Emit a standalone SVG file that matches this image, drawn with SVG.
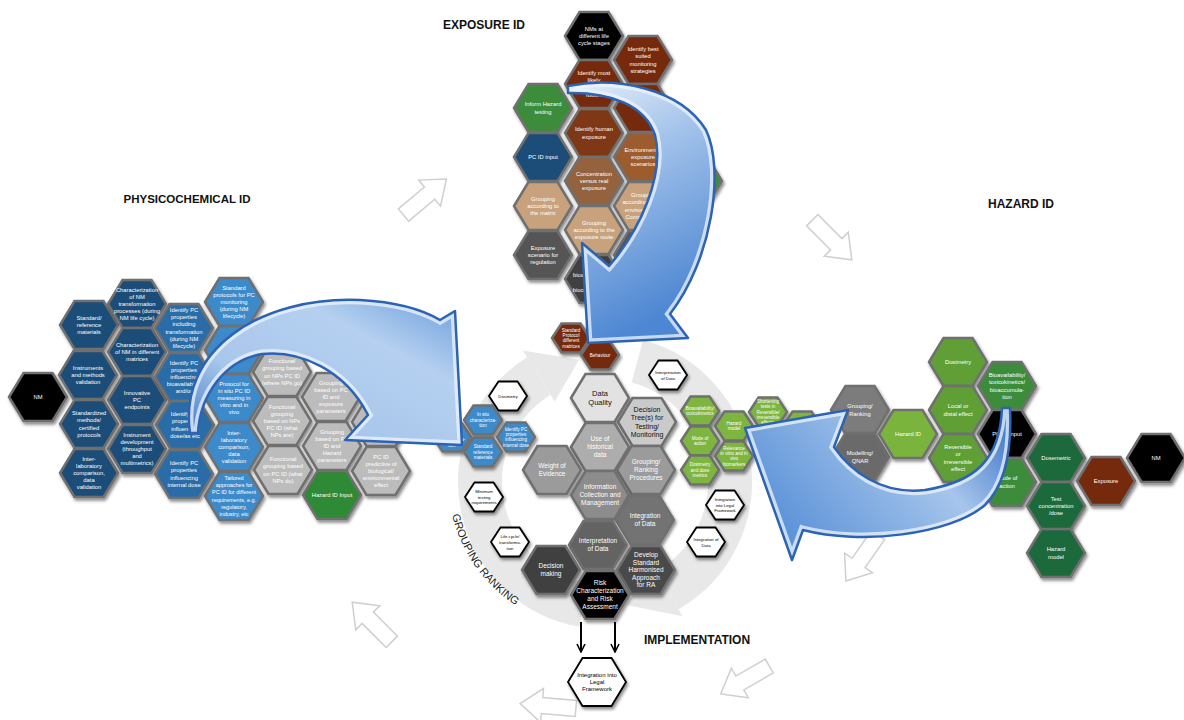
<svg xmlns="http://www.w3.org/2000/svg" width="1184" height="720" viewBox="0 0 1184 720">
<defs>
<style>
.t{font-family:'Liberation Sans',Arial,sans-serif;font-size:5.8px;fill:#fff;text-anchor:middle}
.ts{font-family:'Liberation Sans',Arial,sans-serif;font-size:4.6px;fill:#fff;text-anchor:middle}
.tw{font-family:'Liberation Sans',Arial,sans-serif;font-size:4.3px;fill:#000;text-anchor:middle}
.tc{font-family:'Liberation Sans',Arial,sans-serif;font-size:6.5px;fill:#fff;text-anchor:middle}
.td{font-family:'Liberation Sans',Arial,sans-serif;font-size:7px;fill:#111;text-anchor:middle}
.tf{font-family:'Liberation Sans',Arial,sans-serif;font-size:6px;fill:#000;text-anchor:middle}
.title{font-family:'Liberation Sans',Arial,sans-serif;font-size:12px;font-weight:bold;fill:#111;text-anchor:middle}
.gr{font-family:'Liberation Sans',Arial,sans-serif;font-size:11px;fill:#222}
.h{stroke:#6f6f6f;stroke-width:2.5;filter:url(#sh)}
.w{fill:#fff;stroke:#000;stroke-width:1.8;filter:url(#sh)}
.nv{fill:#1b4d79}.mb{fill:#2b6ca7}.lb{fill:#3d8acb}.lg{fill:#bcbcbc}
.gk{fill:#2e8a36}.bk{fill:#050505}.br{fill:#74290e}.br2{fill:#7f3814}
.env{fill:#9c5b2f}.con{fill:#94623c}.tan{fill:#c7a27b}
.dg1{fill:#555}.dg2{fill:#3f3f3f}
.lgr{fill:#7db541}.lgr2{fill:#7ab43d}.mgr{fill:#5e9f36}.dgr{fill:#3c8c3b}.vdg{fill:#1f6b3b}
.gr1{fill:#7b7b7b}.gr2{fill:#6b6b6b}
.c1{fill:#e2e2e2}.c2{fill:#cacaca}.c3{fill:#adadad}.c4{fill:#9b9b9b}.c5{fill:#8c8c8c}
.c6{fill:#737373}.c7{fill:#636363}.c8{fill:#3f3f3f}.c9{fill:#4a4a4a}
.oa{fill:#fff;stroke:#cfcfcf;stroke-width:1.5}
.ring{fill:none;stroke:#e8e8e8;stroke-width:44}
.ah{fill:#e8e8e8}
.bo{fill:none;stroke:#2d63b3;stroke-width:2.5;stroke-linejoin:round}
.hl{fill:none;stroke:#eef4fc;stroke-opacity:0.75;stroke-width:9}
</style>
<filter id="sh" x="-30%" y="-30%" width="160%" height="170%">
<feDropShadow dx="1.5" dy="2.5" stdDeviation="1.8" flood-color="#000" flood-opacity="0.45"/>
</filter>
<polygon id="hL" points="-29,0 -14.5,-24 14.5,-24 29,0 14.5,24 -14.5,24"/>
<polygon id="hS" points="-19,0 -9.5,-14.5 9.5,-14.5 19,0 9.5,14.5 -9.5,14.5"/>
<polygon id="oarrow" points="-28,-8 6,-8 6,-17 28,0 6,17 6,8 -28,8"/>
<marker id="chev" viewBox="0 0 10 10" refX="9" refY="5" markerWidth="5" markerHeight="5" orient="auto" markerUnits="strokeWidth">
<path d="M1,1 L9,5 L1,9" fill="none" stroke="#000" stroke-width="1.6"/>
</marker>
<path id="a1" d="M190,433 C178,350 260,296 360,300 C395,302 420,308 440,320 L455,311 L462,445 L345,440 L368,415 C345,370 300,350 262,354 C225,360 200,395 198,433 Z"/>
<path id="a2" d="M568,86 C615,76 680,88 706,130 C725,170 712,260 670,314 L688,338 L588,343 L582,243 L609,266 C640,230 665,175 655,135 C645,105 610,92 568,93 Z"/>
<path id="a3" d="M1002,408 C1000,460 975,482 925,490 C880,495 850,470 834,447 L848,410 L745,428 L792,560 L803,530 C860,545 950,535 985,505 C1005,485 1012,450 1010,408 Z"/>
<clipPath id="c1"><use href="#a1"/></clipPath>
<clipPath id="c2"><use href="#a2"/></clipPath>
<clipPath id="c3"><use href="#a3"/></clipPath>
<linearGradient id="gA1" x1="0" y1="1" x2="1" y2="0">
<stop offset="0" stop-color="#3a74c4"/><stop offset="0.35" stop-color="#a9c7ec"/><stop offset="0.7" stop-color="#b5d0f0"/><stop offset="1" stop-color="#6a9ddb"/>
</linearGradient>
<linearGradient id="gA2" x1="0" y1="0" x2="0.3" y2="1">
<stop offset="0" stop-color="#e6eff9"/><stop offset="0.4" stop-color="#9fc0ea"/><stop offset="1" stop-color="#4d86d2"/>
</linearGradient>
<linearGradient id="gA3" x1="1" y1="0" x2="0" y2="0.5">
<stop offset="0" stop-color="#2f6cc0"/><stop offset="0.4" stop-color="#a6c5ec"/><stop offset="1" stop-color="#5d93d8"/>
</linearGradient>
<path id="grpPath" d="M452,515 A152,152 0 0 0 515,605"/>
</defs>

<rect width="1184" height="720" fill="#fff"/>

<g id="connectors-back">
<path class="ring" d="M583.3,605.1 A125,125 0 0 1 538.8,376"/>
<polygon class="ah" points="554.7,401.4 522.9,350.6 579,359.7"/>
<path class="ring" d="M637.4,361.3 A125,125 0 0 1 667.5,590.3"/>
<polygon class="ah" points="652.5,564.3 682.5,616.2 626.7,605.1"/>
<use href="#oarrow" class="oa" transform="translate(425,197) rotate(-40)"/>
<use href="#oarrow" class="oa" transform="translate(832,240) rotate(45)"/>
<use href="#oarrow" class="oa" transform="translate(862,558) rotate(125)"/>
<use href="#oarrow" class="oa" transform="translate(745,680) rotate(150)"/>
<use href="#oarrow" class="oa" transform="translate(548,706) rotate(185)"/>
<use href="#oarrow" class="oa" transform="translate(372,622) rotate(225)"/>
</g>

<g id="physicochemical">
<g id="pc-nm" transform="translate(38,397)"><use href="#hL" class="h bk"/><text class="t"><tspan x="0" y="2">NM</tspan></text></g>
<g id="pc-std-ref" transform="translate(89,325)"><use href="#hL" class="h nv"/><text class="t"><tspan x="0" y="-5.2">Standard/</tspan><tspan x="0" y="2">reference</tspan><tspan x="0" y="9.2">materials</tspan></text></g>
<g id="pc-instr-val" transform="translate(88,375)"><use href="#hL" class="h nv"/><text class="t"><tspan x="0" y="-5.2">Instruments</tspan><tspan x="0" y="2">and methods</tspan><tspan x="0" y="9.2">validation</tspan></text></g>
<g id="pc-std-meth" transform="translate(89,424)"><use href="#hL" class="h nv"/><text class="t"><tspan x="0" y="-8.8">Standardized</tspan><tspan x="0" y="-1.6">methods/</tspan><tspan x="0" y="5.6">certified</tspan><tspan x="0" y="12.8">protocols</tspan></text></g>
<g id="pc-interlab1" transform="translate(89,473)"><use href="#hL" class="h nv"/><text class="t"><tspan x="0" y="-12.4">Inter-</tspan><tspan x="0" y="-5.2">laboratory</tspan><tspan x="0" y="2">comparison,</tspan><tspan x="0" y="9.2">data</tspan><tspan x="0" y="16.4">validation</tspan></text></g>
<g id="pc-char-trans" transform="translate(137,304)"><use href="#hL" class="h nv"/><text class="t"><tspan x="0" y="-12.4">Characterization</tspan><tspan x="0" y="-5.2">of NM</tspan><tspan x="0" y="2">transformation</tspan><tspan x="0" y="9.2">processes (during</tspan><tspan x="0" y="16.4">NM life cycle)</tspan></text></g>
<g id="pc-char-matr" transform="translate(137,352)"><use href="#hL" class="h nv"/><text class="t"><tspan x="0" y="-5.2">Characterization</tspan><tspan x="0" y="2">of NM in different</tspan><tspan x="0" y="9.2">matrices</tspan></text></g>
<g id="pc-innov" transform="translate(137,400)"><use href="#hL" class="h nv"/><text class="t"><tspan x="0" y="-5.2">Innovative</tspan><tspan x="0" y="2">PC</tspan><tspan x="0" y="9.2">endpoints</tspan></text></g>
<g id="pc-instr-dev" transform="translate(137,449)"><use href="#hL" class="h nv"/><text class="t"><tspan x="0" y="-12.4">Instrument</tspan><tspan x="0" y="-5.2">development</tspan><tspan x="0" y="2">(throughput</tspan><tspan x="0" y="9.2">and</tspan><tspan x="0" y="16.4">multimetrics)</tspan></text></g>
<g id="pc-id-trans" transform="translate(184,328)"><use href="#hL" class="h mb"/><text class="t"><tspan x="0" y="-16">Identify PC</tspan><tspan x="0" y="-8.8">properties</tspan><tspan x="0" y="-1.6">including</tspan><tspan x="0" y="5.6">transformation</tspan><tspan x="0" y="12.8">(during NM</tspan><tspan x="0" y="20">lifecycle)</tspan></text></g>
<g id="pc-id-bio" transform="translate(184,377)"><use href="#hL" class="h mb"/><text class="t"><tspan x="0" y="-12.4">Identify PC</tspan><tspan x="0" y="-5.2">properties</tspan><tspan x="0" y="2">influencing</tspan><tspan x="0" y="9.2">bioavailability</tspan><tspan x="0" y="16.4">and/or</tspan></text></g>
<g id="pc-id-dose" transform="translate(185,425)"><use href="#hL" class="h mb"/><text class="t"><tspan x="0" y="-8.8">Identify PC</tspan><tspan x="0" y="-1.6">properties</tspan><tspan x="0" y="5.6">influencing</tspan><tspan x="0" y="12.8">dose/as etc</tspan></text></g>
<g id="pc-id-int" transform="translate(184,474)"><use href="#hL" class="h mb"/><text class="t"><tspan x="0" y="-8.8">Identify PC</tspan><tspan x="0" y="-1.6">properties</tspan><tspan x="0" y="5.6">influencing</tspan><tspan x="0" y="12.8">internal dose</tspan></text></g>
<g id="pc-std-prot" transform="translate(234,302)"><use href="#hL" class="h lb"/><text class="t"><tspan x="0" y="-12.4">Standard</tspan><tspan x="0" y="-5.2">protocols for PC</tspan><tspan x="0" y="2">monitoring</tspan><tspan x="0" y="9.2">(during NM</tspan><tspan x="0" y="16.4">lifecycle)</tspan></text></g>
<g id="pc-hidden" transform="translate(234,350)"><use href="#hL" class="h lb"/></g>
<g id="pc-insitu" transform="translate(234,398)"><use href="#hL" class="h lb"/><text class="t"><tspan x="0" y="-12.4">Protocol for</tspan><tspan x="0" y="-5.2">in situ PC ID</tspan><tspan x="0" y="2">measuring in</tspan><tspan x="0" y="9.2">vitro and in</tspan><tspan x="0" y="16.4">vivo</tspan></text></g>
<g id="pc-interlab2" transform="translate(234,447)"><use href="#hL" class="h lb"/><text class="t"><tspan x="0" y="-12.4">Inter-</tspan><tspan x="0" y="-5.2">laboratory</tspan><tspan x="0" y="2">comparison,</tspan><tspan x="0" y="9.2">data</tspan><tspan x="0" y="16.4">validation</tspan></text></g>
<g id="pc-tailored" transform="translate(234,496)"><use href="#hL" class="h lb"/><text class="t" style="font-size:5.5px"><tspan x="0" y="-16">Tailored</tspan><tspan x="0" y="-8.8">approaches for</tspan><tspan x="0" y="-1.6">PC ID for different</tspan><tspan x="0" y="5.6">requirements, e.g.</tspan><tspan x="0" y="12.8">regulatory,</tspan><tspan x="0" y="20">industry, etc</tspan></text></g>
<g id="gp-where" transform="translate(282,372)"><use href="#hL" class="h lg"/><text class="t"><tspan x="0" y="-8.8">Functional</tspan><tspan x="0" y="-1.6">grouping based</tspan><tspan x="0" y="5.6">on NPs PC ID</tspan><tspan x="0" y="12.8">(where NPs go)</tspan></text></g>
<g id="gp-exposure" transform="translate(331,397)"><use href="#hL" class="h lg"/><text class="t"><tspan x="0" y="-12.4">Grouping</tspan><tspan x="0" y="-5.2">based on PC</tspan><tspan x="0" y="2">ID and</tspan><tspan x="0" y="9.2">exposure</tspan><tspan x="0" y="16.4">parameters</tspan></text></g>
<g id="gp-what" transform="translate(282,421)"><use href="#hL" class="h lg"/><text class="t"><tspan x="0" y="-12.4">Functional</tspan><tspan x="0" y="-5.2">grouping</tspan><tspan x="0" y="2">based on NPs</tspan><tspan x="0" y="9.2">PC ID (what</tspan><tspan x="0" y="16.4">NPs are)</tspan></text></g>
<g id="gp-hazard" transform="translate(332,446)"><use href="#hL" class="h lg"/><text class="t"><tspan x="0" y="-12.4">Grouping</tspan><tspan x="0" y="-5.2">based on PC</tspan><tspan x="0" y="2">ID and</tspan><tspan x="0" y="9.2">Hazard</tspan><tspan x="0" y="16.4">parameters</tspan></text></g>
<g id="gp-do" transform="translate(283,470)"><use href="#hL" class="h lg"/><text class="t"><tspan x="0" y="-8.8">Functional</tspan><tspan x="0" y="-1.6">grouping based</tspan><tspan x="0" y="5.6">on PC ID (what</tspan><tspan x="0" y="12.8">NPs do)</tspan></text></g>
<g id="gp-hidden" transform="translate(381,422)"><use href="#hL" class="h lg"/></g>
<g id="gp-hazard-input" transform="translate(332,495)"><use href="#hL" class="h gk"/><text class="t"><tspan x="0" y="2">Hazard ID Input</tspan></text></g>
<g id="gp-predictive" transform="translate(381,471)"><use href="#hL" class="h lg"/><text class="t"><tspan x="0" y="-12.4">PC ID</tspan><tspan x="0" y="-5.2">predictive of</tspan><tspan x="0" y="2">biological/</tspan><tspan x="0" y="9.2">environmental</tspan><tspan x="0" y="16.4">effect</tspan></text></g>
</g>

<g id="exposure">
<g id="ex-nms" transform="translate(594,36)"><use href="#hL" class="h bk"/><text class="t"><tspan x="0" y="-5.2">NMs at</tspan><tspan x="0" y="2">different life</tspan><tspan x="0" y="9.2">cycle stages</tspan></text></g>
<g id="ex-monitor" transform="translate(643,60)"><use href="#hL" class="h br"/><text class="t"><tspan x="0" y="-8.8">Identify best</tspan><tspan x="0" y="-1.6">suited</tspan><tspan x="0" y="5.6">monitoring</tspan><tspan x="0" y="12.8">strategies</tspan></text></g>
<g id="ex-routes" transform="translate(594,84)"><use href="#hL" class="h br"/><text class="t"><tspan x="0" y="-8.8">Identify most</tspan><tspan x="0" y="-1.6">likely</tspan><tspan x="0" y="5.6">exposure</tspan><tspan x="0" y="12.8">routes</tspan></text></g>
<g id="ex-hidden1" transform="translate(643,108)"><use href="#hL" class="h br"/></g>
<g id="ex-inform" transform="translate(543,108)"><use href="#hL" class="h dgr"/><text class="t"><tspan x="0" y="-1.6">Inform Hazard</tspan><tspan x="0" y="5.6">testing</tspan></text></g>
<g id="ex-human" transform="translate(594,133)"><use href="#hL" class="h br2"/><text class="t"><tspan x="0" y="-1.6">Identify human</tspan><tspan x="0" y="5.6">exposure</tspan></text></g>
<g id="ex-pcid" transform="translate(543,157)"><use href="#hL" class="h nv"/><text class="t"><tspan x="0" y="2">PC ID input</tspan></text></g>
<g id="ex-green" transform="translate(693,181)"><use href="#hL" class="h dgr"/></g>
<g id="ex-env" transform="translate(643,157)"><use href="#hL" class="h env"/><text class="t"><tspan x="0" y="-5.2">Environmental</tspan><tspan x="0" y="2">exposure</tspan><tspan x="0" y="9.2">scenarios</tspan></text></g>
<g id="ex-conc" transform="translate(594,181)"><use href="#hL" class="h con"/><text class="t"><tspan x="0" y="-5.2">Concentration</tspan><tspan x="0" y="2">versus real</tspan><tspan x="0" y="9.2">exposure</tspan></text></g>
<g id="ex-matrix" transform="translate(543,206)"><use href="#hL" class="h tan"/><text class="t"><tspan x="0" y="-5.2">Grouping</tspan><tspan x="0" y="2">according to</tspan><tspan x="0" y="9.2">the matrix</tspan></text></g>
<g id="ex-comp" transform="translate(643,206)"><use href="#hL" class="h tan"/><text class="t"><tspan x="0" y="-8.8">Grouping</tspan><tspan x="0" y="-1.6">according to the</tspan><tspan x="0" y="5.6">environmental</tspan><tspan x="0" y="12.8">Compartment</tspan></text></g>
<g id="ex-route" transform="translate(594,230)"><use href="#hL" class="h tan"/><text class="t"><tspan x="0" y="-5.2">Grouping</tspan><tspan x="0" y="2">according to the</tspan><tspan x="0" y="9.2">exposure route</tspan></text></g>
<g id="ex-reg" transform="translate(543,255)"><use href="#hL" class="h dg1"/><text class="t"><tspan x="0" y="-5.2">Exposure</tspan><tspan x="0" y="2">scenario for</tspan><tspan x="0" y="9.2">regulation</tspan></text></g>
<g id="ex-model" transform="translate(643,255)"><use href="#hL" class="h dg1"/><text class="t"><tspan x="0" y="-5.2">Modelling</tspan><tspan x="0" y="2">environmental</tspan></text></g>
<g id="ex-bioacc" transform="translate(594,279)"><use href="#hL" class="h dg2"/><text class="t"><tspan x="0" y="-8.8">Include</tspan><tspan x="0" y="-1.6">bioaccumulation</tspan><tspan x="0" y="5.6">and</tspan><tspan x="0" y="12.8">bioconcentration</tspan></text></g>
</g>

<g id="grouping">
<g id="ce-protocol" transform="translate(571,338)"><use href="#hS" class="h br"/><text class="ts"><tspan x="0" y="-6.35">Standard</tspan><tspan x="0" y="-1.05">Protocol</tspan><tspan x="0" y="4.25">different</tspan><tspan x="0" y="9.55">matrices</tspan></text></g>
<g id="ce-behaviour" transform="translate(600,355)"><use href="#hS" class="h br"/><text class="ts"><tspan x="0" y="1.6">Behaviour</tspan></text></g>
<g id="ce-quality" transform="translate(600,398)"><use href="#hL" class="h c1"/><text class="td" style="font-size:7.5px"><tspan x="0" y="-1.9">Data</tspan><tspan x="0" y="7.1">Quality</tspan></text></g>
<g id="ce-tree" transform="translate(647,422)"><use href="#hL" class="h c2"/><text class="td"><tspan x="0" y="-10">Decision</tspan><tspan x="0" y="-1.7">Tree(s) for</tspan><tspan x="0" y="6.6">Testing/</tspan><tspan x="0" y="14.9">Monitoring</tspan></text></g>
<g id="ce-hist" transform="translate(600,447)"><use href="#hL" class="h c3"/><text class="tc"><tspan x="0" y="-5.7">Use of</tspan><tspan x="0" y="2.3">historical</tspan><tspan x="0" y="10.3">data</tspan></text></g>
<g id="ce-woe" transform="translate(552,470)"><use href="#hL" class="h c4"/><text class="tc"><tspan x="0" y="-1.7">Weight of</tspan><tspan x="0" y="6.3">Evidence</tspan></text></g>
<g id="ce-rank" transform="translate(646,470)"><use href="#hL" class="h c4"/><text class="tc"><tspan x="0" y="-5.7">Grouping/</tspan><tspan x="0" y="2.3">Ranking</tspan><tspan x="0" y="10.3">Procedures</tspan></text></g>
<g id="ce-info" transform="translate(600,495)"><use href="#hL" class="h c5"/><text class="tc"><tspan x="0" y="-5.7">Information</tspan><tspan x="0" y="2.3">Collection and</tspan><tspan x="0" y="10.3">Management</tspan></text></g>
<g id="ce-integ" transform="translate(645,520)"><use href="#hL" class="h c6"/><text class="tc"><tspan x="0" y="-1.7">Integration</tspan><tspan x="0" y="6.3">of Data</tspan></text></g>
<g id="ce-interp" transform="translate(598,545)"><use href="#hL" class="h c7"/><text class="tc"><tspan x="0" y="-1.7">Interpretation</tspan><tspan x="0" y="6.3">of Data</tspan></text></g>
<g id="ce-decision" transform="translate(551,570)"><use href="#hL" class="h c8"/><text class="tc"><tspan x="0" y="-1.7">Decision</tspan><tspan x="0" y="6.3">making</tspan></text></g>
<g id="ce-develop" transform="translate(646,570)"><use href="#hL" class="h c9"/><text class="tc"><tspan x="0" y="-12.7">Develop</tspan><tspan x="0" y="-5.2">Standard</tspan><tspan x="0" y="2.3">Harmonised</tspan><tspan x="0" y="9.8">Approach</tspan><tspan x="0" y="17.3">for RA</tspan></text></g>
<g id="ce-risk" transform="translate(600,595)"><use href="#hL" class="h bk"/><text class="tc"><tspan x="0" y="-9.7">Risk</tspan><tspan x="0" y="-1.7">Characterization</tspan><tspan x="0" y="6.3">and Risk</tspan><tspan x="0" y="14.3">Assessment</tspan></text></g>
<g id="wh-dosimetry" transform="translate(508,396)"><use href="#hS" class="w"/><text class="tw"><tspan x="0" y="1.6">Dosimetry</tspan></text></g>
<g id="wh-interp" transform="translate(668,375)"><use href="#hS" class="w"/><text class="tw"><tspan x="0" y="-1.3">Interpretation</tspan><tspan x="0" y="4.5">of Data</tspan></text></g>
<g id="wh-min" transform="translate(484,497)"><use href="#hS" class="w"/><text class="tw"><tspan x="0" y="-4.2">Minimum</tspan><tspan x="0" y="1.6">testing</tspan><tspan x="0" y="7.4">requirements</tspan></text></g>
<g id="wh-life" transform="translate(510,542)"><use href="#hS" class="w"/><text class="tw"><tspan x="0" y="-4.4">Life cycle/</tspan><tspan x="0" y="1.6">transforma-</tspan><tspan x="0" y="7.6">tion</tspan></text></g>
<g id="wh-legal" transform="translate(725,505)"><use href="#hS" class="w"/><text class="tw"><tspan x="0" y="-4.2">Integration</tspan><tspan x="0" y="1.6">into Legal</tspan><tspan x="0" y="7.4">Framework</tspan></text></g>
<g id="wh-integ" transform="translate(706,542)"><use href="#hS" class="w"/><text class="tw"><tspan x="0" y="-1.3">Integration of</tspan><tspan x="0" y="4.5">Data</tspan></text></g>
<g id="sb-char" transform="translate(452,437)"><use href="#hS" class="h lb"/><text class="ts"><tspan x="0" y="4.25">characteriza-</tspan><tspan x="0" y="9.55">tion</tspan></text></g>
<g id="sb-insitu" transform="translate(483,420)"><use href="#hS" class="h lb"/><text class="ts"><tspan x="0" y="-3.7">In situ</tspan><tspan x="0" y="1.6">characteriza-</tspan><tspan x="0" y="6.9">tion</tspan></text></g>
<g id="sb-int" transform="translate(516,437)"><use href="#hS" class="h lb"/><text class="ts"><tspan x="0" y="-6.35">Identify PC</tspan><tspan x="0" y="-1.05">properties</tspan><tspan x="0" y="4.25">influencing</tspan><tspan x="0" y="9.55">internal dose</tspan></text></g>
<g id="sb-ref" transform="translate(483,452)"><use href="#hS" class="h lb"/><text class="ts"><tspan x="0" y="-3.7">Standard</tspan><tspan x="0" y="1.6">reference</tspan><tspan x="0" y="6.9">materials</tspan></text></g>
</g>

<g id="hazard">
<g id="hz-bio-s" transform="translate(700,411)"><use href="#hS" class="h lgr"/><text class="ts"><tspan x="0" y="-1.05">Bioavailability/</tspan><tspan x="0" y="4.25">toxicokinetics</tspan></text></g>
<g id="hz-moa-s" transform="translate(700,441)"><use href="#hS" class="h lgr"/><text class="ts"><tspan x="0" y="-1.05">Mode of</tspan><tspan x="0" y="4.25">action</tspan></text></g>
<g id="hz-dose-s" transform="translate(700,470)"><use href="#hS" class="h lgr"/><text class="ts"><tspan x="0" y="-3.7">Dosimetry</tspan><tspan x="0" y="1.6">and dose</tspan><tspan x="0" y="6.9">metrics</tspan></text></g>
<g id="hz-model-s" transform="translate(734,426)"><use href="#hS" class="h lgr"/><text class="ts"><tspan x="0" y="-1.05">Hazard</tspan><tspan x="0" y="4.25">model</tspan></text></g>
<g id="hz-rel-s" transform="translate(734,456)"><use href="#hS" class="h lgr"/><text class="ts"><tspan x="0" y="-6.35">Relevance</tspan><tspan x="0" y="-1.05">in vitro and in</tspan><tspan x="0" y="4.25">vivo</tspan><tspan x="0" y="9.55">biomarkers</tspan></text></g>
<g id="hz-short-s" transform="translate(768,412)"><use href="#hS" class="h lgr"/><text class="ts"><tspan x="0" y="-9">Shortening</tspan><tspan x="0" y="-3.7">tests in</tspan><tspan x="0" y="1.6">Reversible/</tspan><tspan x="0" y="6.9">irreversible</tspan><tspan x="0" y="12.2">effects</tspan></text></g>
<g id="hz-cell-s" transform="translate(802,426)"><use href="#hS" class="h lgr"/></g>
<g id="hz-grouping" transform="translate(860,410)"><use href="#hL" class="h gr1"/><text class="t"><tspan x="0" y="-1.6">Grouping/</tspan><tspan x="0" y="5.6">Ranking</tspan></text></g>
<g id="hz-qnar" transform="translate(860,457)"><use href="#hL" class="h gr2"/><text class="t"><tspan x="0" y="-1.6">Modelling/</tspan><tspan x="0" y="5.6">QNAR</tspan></text></g>
<g id="hz-hazard" transform="translate(908,434)"><use href="#hL" class="h lgr2"/><text class="t"><tspan x="0" y="2">Hazard ID</tspan></text></g>
<g id="hz-dosimetry" transform="translate(958,362)"><use href="#hL" class="h mgr"/><text class="t"><tspan x="0" y="2">Dosimetry</tspan></text></g>
<g id="hz-local" transform="translate(958,410)"><use href="#hL" class="h mgr"/><text class="t"><tspan x="0" y="-1.6">Local or</tspan><tspan x="0" y="5.6">distal effect</tspan></text></g>
<g id="hz-rev" transform="translate(958,458)"><use href="#hL" class="h mgr"/><text class="t"><tspan x="0" y="-8.8">Reversible</tspan><tspan x="0" y="-1.6">or</tspan><tspan x="0" y="5.6">irreversible</tspan><tspan x="0" y="12.8">effect</tspan></text></g>
<g id="hz-bioacc" transform="translate(1007,386)"><use href="#hL" class="h dgr"/><text class="t"><tspan x="0" y="-8.8">Bioavailability/</tspan><tspan x="0" y="-1.6">toxicokinetics/</tspan><tspan x="0" y="5.6">bioaccumula-</tspan><tspan x="0" y="12.8">tion</tspan></text></g>
<g id="hz-pcid" transform="translate(1007,434)"><use href="#hL" class="h bk"/><text class="t"><tspan x="0" y="2">PC ID input</tspan></text></g>
<g id="hz-moa" transform="translate(1007,482)"><use href="#hL" class="h dgr"/><text class="t"><tspan x="0" y="-1.6">Mode of</tspan><tspan x="0" y="5.6">action</tspan></text></g>
<g id="hz-dosemetric" transform="translate(1056,458)"><use href="#hL" class="h vdg"/><text class="t"><tspan x="0" y="2">Dosemetric</tspan></text></g>
<g id="hz-testconc" transform="translate(1056,506)"><use href="#hL" class="h vdg"/><text class="t"><tspan x="0" y="-5.2">Test</tspan><tspan x="0" y="2">concentration</tspan><tspan x="0" y="9.2">/dose</tspan></text></g>
<g id="hz-hmodel" transform="translate(1056,553)"><use href="#hL" class="h vdg"/><text class="t"><tspan x="0" y="-1.6">Hazard</tspan><tspan x="0" y="5.6">model</tspan></text></g>
<g id="hz-exposure" transform="translate(1106,481)"><use href="#hL" class="h br"/><text class="t"><tspan x="0" y="2">Exposure</tspan></text></g>
<g id="hz-nm" transform="translate(1156,458)"><use href="#hL" class="h bk"/><text class="t"><tspan x="0" y="2">NM</tspan></text></g>
</g>

<g id="implementation">
<g id="im-legal" transform="translate(597,682)"><use href="#hL" class="w"/><text class="tf"><tspan x="0" y="-5.2">Integration into</tspan><tspan x="0" y="2">Legal</tspan><tspan x="0" y="9.2">Framework</tspan></text></g>
</g>

<g id="connectors">
<g id="arrow-pc"><use href="#a1" fill="url(#gA1)"/><use href="#a1" class="hl" clip-path="url(#c1)"/><use href="#a1" class="bo"/></g>
<g id="arrow-exposure"><use href="#a2" fill="url(#gA2)"/><use href="#a2" class="hl" clip-path="url(#c2)"/><use href="#a2" class="bo"/></g>
<g id="arrow-hazard"><use href="#a3" fill="url(#gA3)"/><use href="#a3" class="hl" clip-path="url(#c3)"/><use href="#a3" class="bo"/></g>
<line x1="581" y1="622" x2="581" y2="652" stroke="#000" stroke-width="2" marker-end="url(#chev)"/>
<line x1="615" y1="622" x2="615" y2="652" stroke="#000" stroke-width="2" marker-end="url(#chev)"/>
</g>

<g id="labels">
<text class="title" x="484" y="29">EXPOSURE ID</text>
<text class="title" x="187" y="203" style="font-size:11.5px">PHYSICOCHEMICAL ID</text>
<text class="title" x="1021" y="208">HAZARD ID</text>
<text class="title" x="697" y="644">IMPLEMENTATION</text>
<text class="gr"><textPath href="#grpPath">GROUPING</textPath></text>
<text class="gr"><textPath href="#grpPath" startOffset="63">RANKING</textPath></text>
</g>
</svg>
